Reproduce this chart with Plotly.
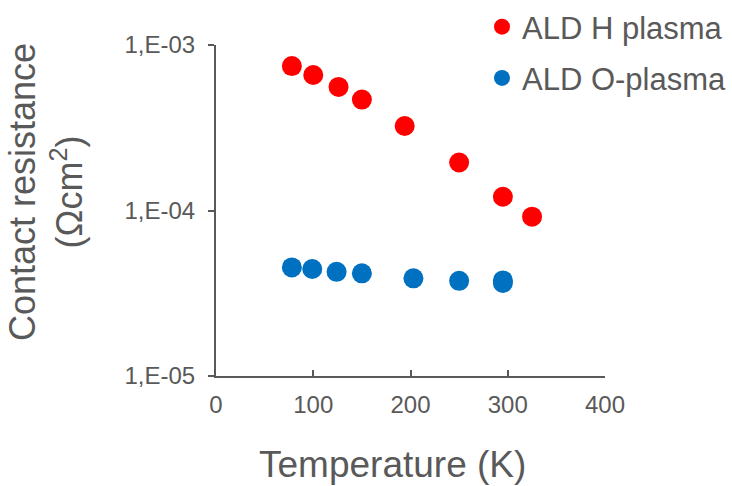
import plotly.graph_objects as go

h_temp = [78, 100, 126, 150, 194, 250, 295, 325]
h_res = [7.46e-4, 6.59e-4, 5.58e-4, 4.68e-4, 3.24e-4, 1.95e-4, 1.21e-4, 9.18e-5]

o_temp = [78, 99, 124, 150, 203, 250, 295, 295]
o_res = [4.53e-5, 4.43e-5, 4.26e-5, 4.17e-5, 3.89e-5, 3.76e-5, 3.78e-5, 3.65e-5]

y_tickvals = [1e-5, 1e-4, 1e-3]
y_ticktext = ["1,E-05", "1,E-04", "1,E-03"]
x_tickvals = [0, 100, 200, 300, 400]

GRAY = "#595959"
FONT = "Liberation Sans, Arial, sans-serif"

fig = go.Figure()
fig.add_trace(go.Scatter(x=h_temp, y=h_res, mode="markers", name="ALD H plasma",
                         marker=dict(color="#FF0000", size=20), legendgroup="a"))
fig.add_trace(go.Scatter(x=o_temp, y=o_res, mode="markers", name="ALD O-plasma",
                         marker=dict(color="#0070C0", size=20), legendgroup="b"))

fig.update_layout(
    width=732, height=486,
    margin=dict(l=216, r=127, t=45, b=110, pad=0, autoexpand=False),
    plot_bgcolor="white", paper_bgcolor="white",
    font=dict(family=FONT, color=GRAY),
    showlegend=True,
    legend=dict(xref="container", yref="container", x=482 / 732, y=1 + 14 / 486,
                xanchor="left", yanchor="top",
                font=dict(size=31, color=GRAY, family=FONT),
                bgcolor="rgba(0,0,0,0)", tracegroupgap=8,
                itemsizing="trace"),
    xaxis=dict(range=[0, 400], tickvals=x_tickvals, ticks="inside", ticklen=6,
               tickwidth=2, tickcolor=GRAY, showline=True, linecolor=GRAY,
               linewidth=2, showgrid=False, zeroline=False, ticklabelstandoff=6,
               tickfont=dict(size=24, color=GRAY, family=FONT)),
    yaxis=dict(type="log", range=[-5, -3], tickvals=y_tickvals, ticktext=y_ticktext,
               ticks="outside", ticklen=6, tickwidth=2, tickcolor=GRAY,
               showline=True, linecolor=GRAY, linewidth=2, showgrid=False,
               zeroline=False, ticklabelstandoff=8,
               tickfont=dict(size=24, color=GRAY, family=FONT)),
    annotations=[
        dict(text="Contact resistance<br>(Ωcm<sup>2</sup>)", textangle=-90,
             xref="paper", yref="paper", x=(46 - 216) / 389, y=(376 - 192) / 331,
             xanchor="center", yanchor="middle", showarrow=False,
             font=dict(size=36, color=GRAY, family=FONT)),
        dict(text="Temperature (K)", xref="paper", yref="paper",
             x=(392 - 216) / 389, y=(376 - 464) / 331,
             xanchor="center", yanchor="middle", showarrow=False,
             font=dict(size=37, color=GRAY, family=FONT)),
    ],
)

fig.write_html("out.html")
